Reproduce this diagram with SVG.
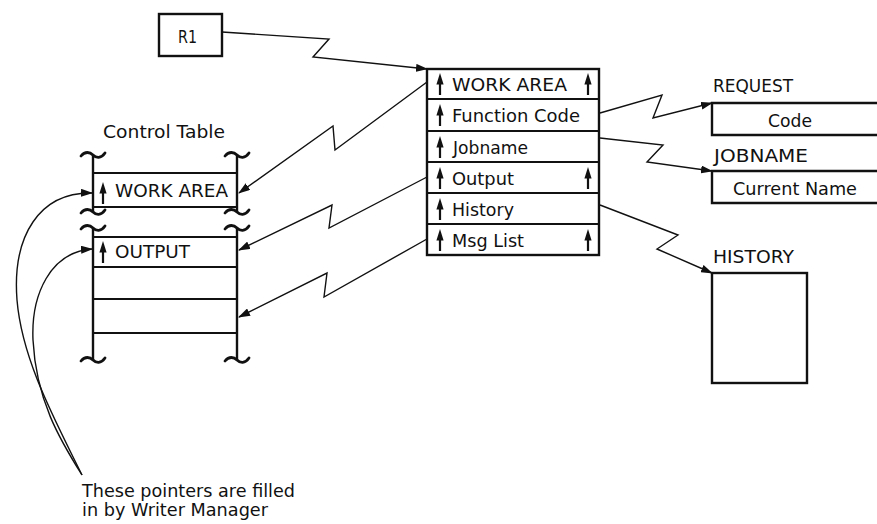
<svg xmlns="http://www.w3.org/2000/svg" xmlns:xlink="http://www.w3.org/1999/xlink" width="877" height="524" viewBox="0 0 877 524">
  <style>
    .box { fill: none; stroke: #111; stroke-width: 2.4; }
    .rule { stroke: #111; stroke-width: 1.8; }
    .wire { fill: none; stroke: #111; stroke-width: 1.4; stroke-linejoin: miter; }
    text { font-family: "DejaVu Sans", "Liberation Sans", sans-serif; font-size: 17px; fill: #111; }
  </style>
  <defs>
    <marker id="tip" viewBox="0 0 12 8" refX="11" refY="4" markerWidth="12" markerHeight="8" markerUnits="userSpaceOnUse" orient="auto">
      <path d="M0,0 L12,4 L0,8 z" fill="#111"/>
    </marker>
    <!-- pointer glyph: base at origin, pointing up -->
    <g id="ptr">
      <polygon points="0,-22 -3.6,-10.5 3.6,-10.5" fill="#111"/>
      <rect x="-1.1" y="-12" width="2.2" height="12" fill="#111"/>
    </g>
    <!-- break mark on the table sides -->
    <path id="brk" d="M-12,1 C-8,-4 -3,-3 0,0 C3,3 8,4 12,-2" fill="none" stroke="#111" stroke-width="2.8" stroke-linecap="round"/>
  </defs>

  <g id="r1">
    <rect class="box" x="159" y="14" width="63" height="42"/>
    <text x="178" y="43" textLength="19" lengthAdjust="spacingAndGlyphs">R1</text>
  </g>

  <g id="control-table">
    <text x="103" y="138" textLength="122" lengthAdjust="spacingAndGlyphs">Control Table</text>
    <line class="box" x1="93" y1="155" x2="93" y2="212"/>
    <line class="box" x1="93" y1="228" x2="93" y2="360"/>
    <line class="box" x1="237" y1="155" x2="237" y2="212"/>
    <line class="box" x1="237" y1="228" x2="237" y2="360"/>
    <use xlink:href="#brk" x="93" y="155"/>
    <use xlink:href="#brk" x="237" y="155"/>
    <use xlink:href="#brk" x="93" y="212"/>
    <use xlink:href="#brk" x="237" y="212"/>
    <use xlink:href="#brk" x="93" y="228"/>
    <use xlink:href="#brk" x="237" y="228"/>
    <use xlink:href="#brk" x="93" y="360"/>
    <use xlink:href="#brk" x="237" y="360"/>
    <line class="rule" x1="93" y1="173" x2="237" y2="173"/>
    <line class="rule" x1="93" y1="207" x2="237" y2="207"/>
    <line class="rule" x1="93" y1="237" x2="237" y2="237"/>
    <line class="rule" x1="93" y1="267" x2="237" y2="267"/>
    <line class="rule" x1="93" y1="299" x2="237" y2="299"/>
    <line class="rule" x1="93" y1="333" x2="237" y2="333"/>
    <use xlink:href="#ptr" x="103" y="204"/>
    <text x="115" y="197" textLength="113" lengthAdjust="spacingAndGlyphs">WORK AREA</text>
    <use xlink:href="#ptr" x="103" y="263"/>
    <text x="115" y="258" textLength="75" lengthAdjust="spacingAndGlyphs">OUTPUT</text>
  </g>

  <g id="main-block">
    <rect class="box" x="427" y="69" width="172" height="186"/>
    <line class="rule" x1="427" y1="99" x2="599" y2="99"/>
    <line class="rule" x1="427" y1="131" x2="599" y2="131"/>
    <line class="rule" x1="427" y1="162" x2="599" y2="162"/>
    <line class="rule" x1="427" y1="193" x2="599" y2="193"/>
    <line class="rule" x1="427" y1="224" x2="599" y2="224"/>
    <use xlink:href="#ptr" x="440" y="95"/>
    <use xlink:href="#ptr" x="588" y="95"/>
    <text x="452" y="91" textLength="115" lengthAdjust="spacingAndGlyphs">WORK AREA</text>
    <use xlink:href="#ptr" x="440" y="126"/>
    <text x="452" y="122" textLength="128" lengthAdjust="spacingAndGlyphs">Function Code</text>
    <use xlink:href="#ptr" x="440" y="158"/>
    <text x="453" y="154" textLength="75" lengthAdjust="spacingAndGlyphs">Jobname</text>
    <use xlink:href="#ptr" x="440" y="189"/>
    <use xlink:href="#ptr" x="588" y="189"/>
    <text x="452" y="185" textLength="62" lengthAdjust="spacingAndGlyphs">Output</text>
    <use xlink:href="#ptr" x="440" y="220"/>
    <text x="452" y="216" textLength="62" lengthAdjust="spacingAndGlyphs">History</text>
    <use xlink:href="#ptr" x="440" y="251"/>
    <use xlink:href="#ptr" x="588" y="251"/>
    <text x="452" y="247" textLength="72" lengthAdjust="spacingAndGlyphs">Msg List</text>
  </g>

  <g id="request">
    <text x="713" y="92" textLength="80" lengthAdjust="spacingAndGlyphs">REQUEST</text>
    <path class="box" d="M880,103 H712 V135 H880"/>
    <text x="768" y="127" textLength="44" lengthAdjust="spacingAndGlyphs">Code</text>
  </g>

  <g id="jobname">
    <text x="714" y="162" textLength="94" lengthAdjust="spacingAndGlyphs">JOBNAME</text>
    <path class="box" d="M880,171 H712 V203 H880"/>
    <text x="733" y="195" textLength="124" lengthAdjust="spacingAndGlyphs">Current Name</text>
  </g>

  <g id="history">
    <text x="713" y="263" textLength="81" lengthAdjust="spacingAndGlyphs">HISTORY</text>
    <rect class="box" x="712" y="273" width="95" height="110"/>
  </g>

  <g id="note">
    <text x="82" y="497" textLength="213" lengthAdjust="spacingAndGlyphs">These pointers are filled</text>
    <text x="82" y="516" textLength="186" lengthAdjust="spacingAndGlyphs">in by Writer Manager</text>
  </g>

  <g id="connectors">
    <polyline class="wire" points="222,32 329,39 313,57 427,69" marker-end="url(#tip)"/>
    <polyline class="wire" points="600,113 662,95 653,118 712,103" marker-end="url(#tip)"/>
    <polyline class="wire" points="600,138 663,145 647,162 712,171" marker-end="url(#tip)"/>
    <polyline class="wire" points="600,205 678,235 657,249 712,273" marker-end="url(#tip)"/>
    <polyline class="wire" points="427,82 335,150 333,126 239,193" marker-end="url(#tip)"/>
    <polyline class="wire" points="427,177 329,228 332,205 239,250" marker-end="url(#tip)"/>
    <polyline class="wire" points="427,239 324,297 327,273 239,317" marker-end="url(#tip)"/>
    <path class="wire" d="M82,475 C55,420 22,360 17,300 C12,235 40,192 92,193" marker-end="url(#tip)"/>
    <path class="wire" d="M82,475 C60,440 36,400 33,340 C31,295 50,252 92,249" marker-end="url(#tip)"/>
  </g>
</svg>
